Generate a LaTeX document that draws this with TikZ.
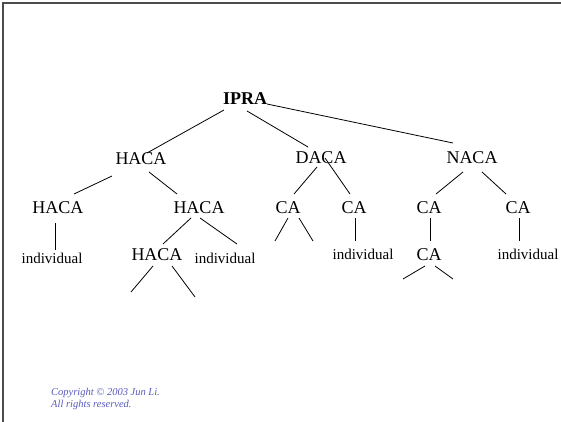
\documentclass[tikz,border=0pt]{standalone}
\usepackage{fontspec}
\setmainfont{Liberation Serif}
\usepackage{xcolor}
\usepackage{tikz}
\usetikzlibrary{calc}

\definecolor{copyblue}{RGB}{88,88,190}

\tikzset{
  agent/.style={inner sep=0pt, font=\fontsize{18}{20}\selectfont},
  leaf/.style={inner sep=0pt, font=\fontsize{15}{17}\selectfont},
  link/.style={black, line width=0.8pt},
}

\begin{document}
\begin{tikzpicture}[x=1pt,y=-1pt]
\useasboundingbox (0,0) rectangle (561,422);
% frame
\draw[gray!60!black, line width=1.6pt] (3,422) -- (3,3) -- (561,3);
% nodes
\node[agent, font=\fontsize{18}{20}\selectfont\bfseries] (ipra) at (245,99) {IPRA};
\node[agent] (haca) at (141,159) {HACA};
\node[agent] (daca) at (321,158) {DACA};
\node[agent] (naca) at (472,158) {NACA};
\node[agent] (hacaL) at (58,208) {HACA};
\node[agent] (hacaR) at (199,208) {HACA};
\node[agent] (caA) at (288,208) {CA};
\node[agent] (caB) at (354,208) {CA};
\node[agent] (caC) at (429,208) {CA};
\node[agent] (caD) at (518,208) {CA};
\node[leaf] (indA) at (52,258) {individual};
\node[agent] (hacaB) at (157,255) {HACA};
\node[leaf] (indB) at (225,258) {individual};
\node[leaf] (indC) at (363,254) {individual};
\node[agent] (caE) at (429,255) {CA};
\node[leaf] (indD) at (528,254) {individual};
% free ends
\coordinate (hbL) at (131,292);
\coordinate (hbR) at (195,297);
\coordinate (caAL) at (275,241);
\coordinate (caAR) at (313,241);
\coordinate (caEL) at (403,279);
\coordinate (caER) at (453,279);
% links
\draw[link] ($(ipra)+(-21,11)$) -- ($(haca)+(6,-6)$);
\draw[link] ($(ipra)+(2,12)$) -- ($(daca)+(-13,-11)$);
\draw[link] ($(ipra)+(22,5)$) -- ($(naca)+(-19,-15)$);
\draw[link] ($(haca)+(-29,17)$) -- ($(hacaL)+(16,-14)$);
\draw[link] ($(haca)+(8,13)$) -- ($(hacaR)+(-22,-14)$);
\draw[link] ($(hacaL)+(-3,15)$) -- ($(indA)+(3,-8)$);
\draw[link] ($(hacaR)+(-8,10)$) -- ($(hacaB)+(6,-11)$);
\draw[link] ($(hacaR)+(1,10)$) -- ($(indB)+(12,-14)$);
\draw[link] ($(hacaB)+(-4,11)$) -- (hbL);
\draw[link] ($(hacaB)+(15,11)$) -- (hbR);
\draw[link] ($(daca)+(-4,9)$) -- ($(caA)+(6,-14)$);
\draw[link] ($(daca)+(4,0)$) -- ($(caB)+(-4,-14)$);
\draw[link] ($(caA)+(0,10)$) -- (caAL);
\draw[link] ($(caA)+(11,10)$) -- (caAR);
\draw[link] ($(caB)+(1,10)$) -- ($(indC)+(-8,-13)$);
\draw[link] ($(naca)+(-9,14)$) -- ($(caC)+(7,-14)$);
\draw[link] ($(naca)+(10,14)$) -- ($(caD)+(-12,-14)$);
\draw[link] ($(caC)+(1,10)$) -- ($(caE)+(1,-14)$);
\draw[link] ($(caD)+(1,10)$) -- ($(indD)+(-9,-13)$);
\draw[link] ($(caE)+(-4,11)$) -- (caEL);
\draw[link] ($(caE)+(6,11)$) -- (caER);
% copyright
\node[inner sep=0pt, anchor=base west, text=copyblue, font=\fontsize{10.5}{12}\selectfont\itshape] (copy1) at (51,395) {Copyright \textcopyright{} 2003 Jun Li.};
\node[inner sep=0pt, anchor=base west, text=copyblue, font=\fontsize{10.5}{12}\selectfont\itshape] (copy2) at (51,407) {All rights reserved.};
\end{tikzpicture}
\end{document}
